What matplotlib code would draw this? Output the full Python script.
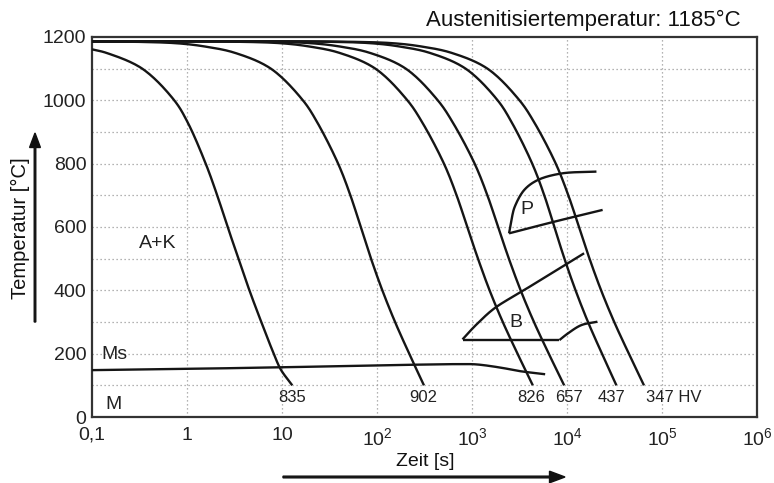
import numpy as np
import matplotlib
matplotlib.use("Agg")
import matplotlib.pyplot as plt

plt.rcParams['font.family'] = ['Liberation Sans', 'DejaVu Sans']
plt.rcParams['mathtext.fontset'] = 'custom'
plt.rcParams['mathtext.rm'] = 'Liberation Sans'
plt.rcParams['mathtext.it'] = 'Liberation Sans'

# ---- data: cooling curves (log10 time [s], temperature [°C]) ----
c835_logt = [-1.0, -0.850, -0.471, -0.134, 0.006, 0.197, 0.318, 0.428, 0.542,
             0.657, 0.782, 0.913, 0.987, 1.108]
c835_T    = [1161, 1150, 1100, 1000, 931, 800, 700, 600, 500, 400, 300, 200, 150, 100]

levels_T = [1186, 1185, 1180, 1170, 1150, 1100, 1000, 931, 800, 700, 600, 500, 400, 300, 200, 100]

c902_logt = [-1.0, -0.569, -0.096, 0.188, 0.504, 0.883, 1.220, 1.370, 1.591, 1.720,
             1.829, 1.937, 2.056, 2.190, 2.339, 2.494]
c826_logt = [-1.0, 0.531, 1.004, 1.288, 1.604, 1.983, 2.320, 2.475, 2.705, 2.838,
             2.950, 3.063, 3.185, 3.324, 3.479, 3.640]
c657_logt = [-1.0, 0.851, 1.324, 1.608, 1.924, 2.303, 2.640, 2.796, 3.028, 3.162,
             3.275, 3.388, 3.512, 3.652, 3.808, 3.970]
c437_logt = [-1.0, 1.481, 1.954, 2.238, 2.554, 2.933, 3.270, 3.417, 3.634, 3.761,
             3.867, 3.973, 4.090, 4.221, 4.368, 4.520]
c347_logt = [-1.0, 1.711, 2.184, 2.468, 2.784, 3.163, 3.500, 3.654, 3.882, 4.014,
             4.126, 4.237, 4.359, 4.497, 4.651, 4.810]

ms_logt = [-1.0, 0.0, 1.0, 2.0, 2.9, 3.05, 3.3, 3.5, 3.77]
ms_T    = [148, 152, 157, 163, 167, 166, 156, 145, 135]

b_upper_logt = [2.90, 2.96, 3.05, 3.235, 3.55, 3.99, 4.18]
b_upper_T    = [245, 265, 293, 343, 401, 482, 517]
b_lower_logt = [2.90, 3.92, 4.01, 4.15, 4.32]
b_lower_T    = [243, 243, 264, 290, 301]

p_upper_logt = [3.39, 3.42, 3.45, 3.55, 3.69, 3.94, 4.31]
p_upper_T    = [580, 630, 664, 717, 748, 769, 775]
p_lower_logt = [3.39, 3.87, 4.375]
p_lower_T    = [580, 617, 654]

hardness_labels = ['835', '902', '826', '657', '437', '347 HV']

x_ticks = [0.1, 1, 10, 1e2, 1e3, 1e4, 1e5, 1e6]
x_ticklabels = ['0,1', '1', '10', r'$\mathregular{10^{2}}$', r'$\mathregular{10^{3}}$',
                r'$\mathregular{10^{4}}$', r'$\mathregular{10^{5}}$', r'$\mathregular{10^{6}}$']
y_ticks = [0, 200, 400, 600, 800, 1000, 1200]


def smooth(lt, T, n=24):
    """Centripetal Catmull-Rom curve through the read points (drawing only)."""
    X = np.array(lt, float) * 95.0
    Y = np.array(T, float) * 0.3167
    P = np.column_stack([X, Y])
    if len(P) < 3:
        return 10 ** (P[:, 0] / 95.0), P[:, 1] / 0.3167
    P = np.vstack([2 * P[0] - P[1], P, 2 * P[-1] - P[-2]])
    out = []
    for i in range(1, len(P) - 2):
        p0, p1, p2, p3 = P[i - 1], P[i], P[i + 1], P[i + 2]
        t0 = 0.0
        t1 = t0 + np.linalg.norm(p1 - p0) ** 0.5
        t2 = t1 + np.linalg.norm(p2 - p1) ** 0.5
        t3 = t2 + np.linalg.norm(p3 - p2) ** 0.5
        t = np.linspace(t1, t2, n, endpoint=(i == len(P) - 3))[:, None]
        a1 = (t1 - t) / (t1 - t0) * p0 + (t - t0) / (t1 - t0) * p1
        a2 = (t2 - t) / (t2 - t1) * p1 + (t - t1) / (t2 - t1) * p2
        a3 = (t3 - t) / (t3 - t2) * p2 + (t - t2) / (t3 - t2) * p3
        b1 = (t2 - t) / (t2 - t0) * a1 + (t - t0) / (t2 - t0) * a2
        b2 = (t3 - t) / (t3 - t1) * a2 + (t - t1) / (t3 - t1) * a3
        c = (t2 - t) / (t2 - t1) * b1 + (t - t1) / (t2 - t1) * b2
        out.append(c)
    C = np.vstack(out)
    return 10 ** (C[:, 0] / 95.0), C[:, 1] / 0.3167


# ---- figure ----
fig = plt.figure(figsize=(7.74, 4.83), dpi=100)
ax = fig.add_axes([92/774, 1-417/483, (757-92)/774, (417-37)/483])
ax.set_xscale('log')
ax.set_xlim(0.1, 1e6)
ax.set_ylim(0, 1200)

grid_kw = dict(color='#9a9a9a', lw=0.9, ls=(0, (1, 2.2)), zorder=0)
for yv in range(100, 1200, 100):
    ax.axhline(yv, **grid_kw)
for xv in [1, 10, 1e2, 1e3, 1e4, 1e5]:
    ax.axvline(xv, **grid_kw)

line_kw = dict(color='#151515', lw=1.7, solid_capstyle='butt', zorder=3)
curves = [(c835_logt, c835_T), (c902_logt, levels_T), (c826_logt, levels_T),
          (c657_logt, levels_T), (c437_logt, levels_T), (c347_logt, levels_T),
          (ms_logt, ms_T), (b_upper_logt, b_upper_T),
          (p_upper_logt, p_upper_T), (p_lower_logt, p_lower_T)]
for lt, T in curves:
    xs, ys = smooth(lt, T)
    ax.plot(xs, ys, **line_kw)

# bainite lower boundary: straight part, then smooth rise
ax.plot(10 ** np.array(b_lower_logt[:2]), b_lower_T[:2], **line_kw)
xs, ys = smooth(b_lower_logt[1:], b_lower_T[1:])
ax.plot(xs, ys, **line_kw)

lab_pos = [(12.9, 63, 'center'), (305, 63, 'center'), (4170, 63, 'center'),
           (10470, 63, 'center'), (29500, 63, 'center'), (67600, 63, 'left')]
for (x, y, ha), s in zip(lab_pos, hardness_labels):
    ax.text(x, y, s, ha=ha, va='center', fontsize=12, color='#222')

txt_kw = dict(fontsize=14, color='#222', va='center')
ax.text(0.495, 549, 'A+K', ha='center', **txt_kw)
ax.text(0.1245, 196, 'Ms', ha='left', **txt_kw)
ax.text(0.137, 41, 'M', ha='left', **txt_kw)
ax.text(3800, 656, 'P', ha='center', **txt_kw)
ax.text(2900, 299, 'B', ha='center', **txt_kw)

ax.set_xticks(x_ticks)
ax.set_xticklabels(x_ticklabels)
ax.set_yticks(y_ticks)
ax.minorticks_off()
ax.tick_params(axis='both', length=0, labelsize=14, labelcolor='#222')
ax.tick_params(axis='x', pad=7)
ax.tick_params(axis='y', pad=4)
for sp in ax.spines.values():
    sp.set_color('#333')
    sp.set_linewidth(1.6)

fig.text(0.957, 0.9586, 'Austenitisiertemperatur: 1185°C', ha='right', va='center',
         fontsize=16, color='#111')
fig.text(0.0258, 0.527, 'Temperatur [°C]', rotation=90, ha='center', va='center',
         fontsize=14.5, color='#111')
fig.text(0.549, 0.0435, 'Zeit [s]', ha='center', va='center', fontsize=14, color='#111')

fig.patches.append(matplotlib.patches.FancyArrow(
    35/774, 1-322/483, 0, (322-133)/483, width=0.002, head_width=0.014,
    head_length=0.03, length_includes_head=True, color='#111',
    transform=fig.transFigure, figure=fig))
fig.patches.append(matplotlib.patches.FancyArrow(
    283/774, 1-477/483, (565-283)/774, 0, width=0.0035, head_width=0.024,
    head_length=0.02, length_includes_head=True, color='#111',
    transform=fig.transFigure, figure=fig))

fig.savefig('out.png', dpi=100)
